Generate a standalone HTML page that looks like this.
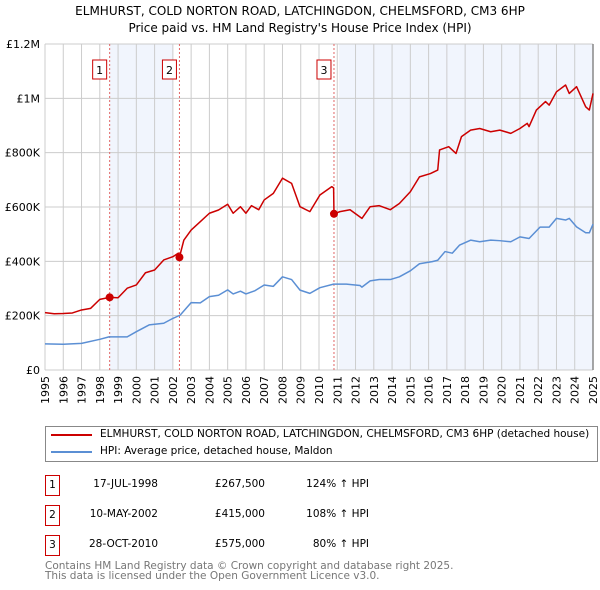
<!DOCTYPE html>
<html><head><meta charset="utf-8"><style>
body{margin:0;background:#fff;font-family:"DejaVu Sans","Liberation Sans",sans-serif;}
#wrap{position:relative;width:600px;height:590px;overflow:hidden;}
.t{position:absolute;white-space:nowrap;color:#000;}
</style></head><body><div id="wrap">
<div class="t" style="left:0;width:600px;text-align:center;top:3px;font-size:12px;line-height:17px">ELMHURST, COLD NORTON ROAD, LATCHINGDON, CHELMSFORD, CM3 6HP<br>Price paid vs. HM Land Registry's House Price Index (HPI)</div>
<svg id="svg" width="600" height="420" style="position:absolute;left:0;top:0;font-family:'DejaVu Sans',sans-serif"></svg>
<div style="position:absolute;left:45px;top:426px;width:553px;height:36px;border:1px solid #888;box-sizing:border-box">
<div style="position:absolute;left:5px;top:7px;width:41px;height:2px;background:#cc0000"></div>
<div class="t" style="left:54px;top:1px;font-size:10.5px">ELMHURST, COLD NORTON ROAD, LATCHINGDON, CHELMSFORD, CM3 6HP (detached house)</div>
<div style="position:absolute;left:5px;top:24px;width:41px;height:2px;background:#5b8fd4"></div>
<div class="t" style="left:54px;top:18px;font-size:10.5px">HPI: Average price, detached house, Maldon</div>
</div>
<div id="tbl"></div>
<div class="t" style="left:45px;top:561px;font-size:10.5px;line-height:10px;color:#777">Contains HM Land Registry data © Crown copyright and database right 2025.<br>This data is licensed under the Open Government Licence v3.0.</div>
</div>
<script>
const yTicks=[0,200,400,600,800,1000,1200];
const yTickLabels=["£0","£200K","£400K","£600K","£800K","£1M","£1.2M"];
const years=[1995,1996,1997,1998,1999,2000,2001,2002,2003,2004,2005,2006,2007,2008,2009,2010,2011,2012,2013,2014,2015,2016,2017,2018,2019,2020,2021,2022,2023,2024,2025];
const saleDates=[1998.54,2002.36,2010.82];
const saleValues=[267.5,415,575];
const saleLabels=["1","2","3"];
const saleDateText=["17-JUL-1998","10-MAY-2002","28-OCT-2010"];
const salePriceText=["£267,500","£415,000","£575,000"];
const saleHpiText=["124% ↑ HPI","108% ↑ HPI","80% ↑ HPI"];
const redT=[1995,1995.5,1996,1996.5,1997,1997.5,1998,1998.54,1999,1999.5,2000,2000.5,2001,2001.5,2002,2002.3,2002.36,2002.6,2003,2003.5,2004,2004.5,2005,2005.3,2005.7,2006,2006.3,2006.7,2007,2007.5,2008,2008.5,2008.96,2009.5,2010.05,2010.7,2010.8,2010.82,2011.15,2011.7,2012.35,2012.8,2013.3,2013.9,2014.4,2015,2015.5,2016.1,2016.5,2016.6,2017.1,2017.5,2017.8,2018.3,2018.8,2019.4,2019.9,2020.5,2021,2021.4,2021.5,2021.9,2022.4,2022.6,2023,2023.5,2023.7,2024.1,2024.6,2024.8,2025];
const redV=[211,207,208,210,221,227,260,267.5,266,301,313,358,368,405,417,430,415,478,515,546,577,589,610,577,601,577,605,590,626,650,706,687,601,583,644,675,670,575,583,590,558,601,605,590,613,656,711,723,736,810,822,797,859,883,889,877,883,871,889,908,896,957,988,975,1024,1049,1018,1043,969,957,1018];
const blueT=[1995,1996,1997,1998,1998.5,1999.5,2000,2000.7,2001.5,2002,2002.4,2003,2003.5,2004,2004.5,2005,2005.3,2005.7,2006,2006.5,2007,2007.5,2008,2008.5,2008.96,2009.5,2010.05,2010.8,2011.5,2012.25,2012.35,2012.8,2013.3,2013.9,2014.4,2015,2015.5,2016.2,2016.5,2016.9,2017.3,2017.7,2018.3,2018.8,2019.4,2019.9,2020.5,2021,2021.5,2022.1,2022.6,2023,2023.5,2023.7,2024.1,2024.6,2024.8,2025];
const blueV=[96,95,98,113,122,122,141,166,172,190,202,248,247,270,275,295,280,290,280,292,313,308,343,333,294,282,303,316,316,311,305,328,333,333,343,365,391,399,404,436,430,460,478,472,478,476,472,490,484,526,526,558,552,558,527,505,505,537];
const L=45,R=593,T=44,B=370;
const x=v=>L+(v-1995)/30*(R-L);
const y=v=>B-v/1200*(B-T);
const NS="http://www.w3.org/2000/svg";
const svg=document.getElementById('svg');
function mk(tag,at){const e=document.createElementNS(NS,tag);for(const k in at)e.setAttribute(k,at[k]);svg.appendChild(e);return e;}
let e;
e=mk('rect',{x:x(saleDates[0]),y:T,width:x(2002)-x(saleDates[0]),height:B-T,fill:'#f1f5fd'});


e=mk('rect',{x:x(2011.1),y:T,width:R-x(2011.1),height:B-T,fill:'#f1f5fd'});


years.forEach(yr=>{const g=mk('line',{x1:x(yr),x2:x(yr),y1:T,y2:B,stroke:'#ccc','stroke-width':1});


const t=mk('text',{x:0,y:0,transform:`translate(${x(yr)+4},${B+6}) rotate(-90)`,'text-anchor':'end','font-size':11,fill:'#000'});
t.textContent=yr;

});
yTicks.forEach((v,i)=>{const g=mk('line',{x1:L,x2:R,y1:y(v),y2:y(v),stroke:'#ccc','stroke-width':1});


const t=mk('text',{x:40,y:y(v)+4,'text-anchor':'end','font-size':11,fill:'#000'});
t.textContent=yTickLabels[i];

});
e=mk('line',{x1:R,x2:R,y1:T,y2:B,stroke:'#888','stroke-width':1.5});


saleDates.forEach((d,i)=>{const l=mk('line',{x1:x(d),x2:x(d),y1:T,y2:B,stroke:'#e06666','stroke-width':1,'stroke-dasharray':'2,2'});


const r=mk('rect',{x:x(d)-17,y:60,width:14,height:19,fill:'#fff',stroke:'#cc0000','stroke-width':1});


const t=mk('text',{x:x(d)-10,y:74,'text-anchor':'middle','font-size':11,fill:'#000'});
t.textContent=saleLabels[i];

});
function line(ts,vs,col,name){const p=mk('polyline',{points:ts.map((t,i)=>x(t)+','+y(vs[i])).join(' '),fill:'none',stroke:col,'stroke-width':1.5,'stroke-linejoin':'round'});

}
line(blueT,blueV,'#5b8fd4','hpi-line');
line(redT,redV,'#cc0000','property-line');
saleDates.forEach((d,i)=>{const c=mk('circle',{cx:x(d),cy:y(saleValues[i]),r:4,fill:'#cc0000'});

});
const tbl=document.getElementById('tbl');let h='';
saleLabels.forEach((s,i)=>{const top=475+i*30;
h+=`<div style="position:absolute;left:45px;top:${top}px;width:15px;height:21px;border:1px solid #cc0000;box-sizing:border-box;font-size:10.5px;text-align:center;line-height:19px">${s}</div>`;
h+=`<div class="t" style="left:60px;width:98px;text-align:right;top:${top+3}px;font-size:10.5px">${saleDateText[i]}</div>`;
h+=`<div class="t" style="left:180px;width:85px;text-align:right;top:${top+3}px;font-size:10.5px">${salePriceText[i]}</div>`;
h+=`<div class="t" style="left:280px;width:89px;text-align:right;top:${top+3}px;font-size:10.5px">${saleHpiText[i]}</div>`;});
tbl.innerHTML=h;
</script></body></html>
